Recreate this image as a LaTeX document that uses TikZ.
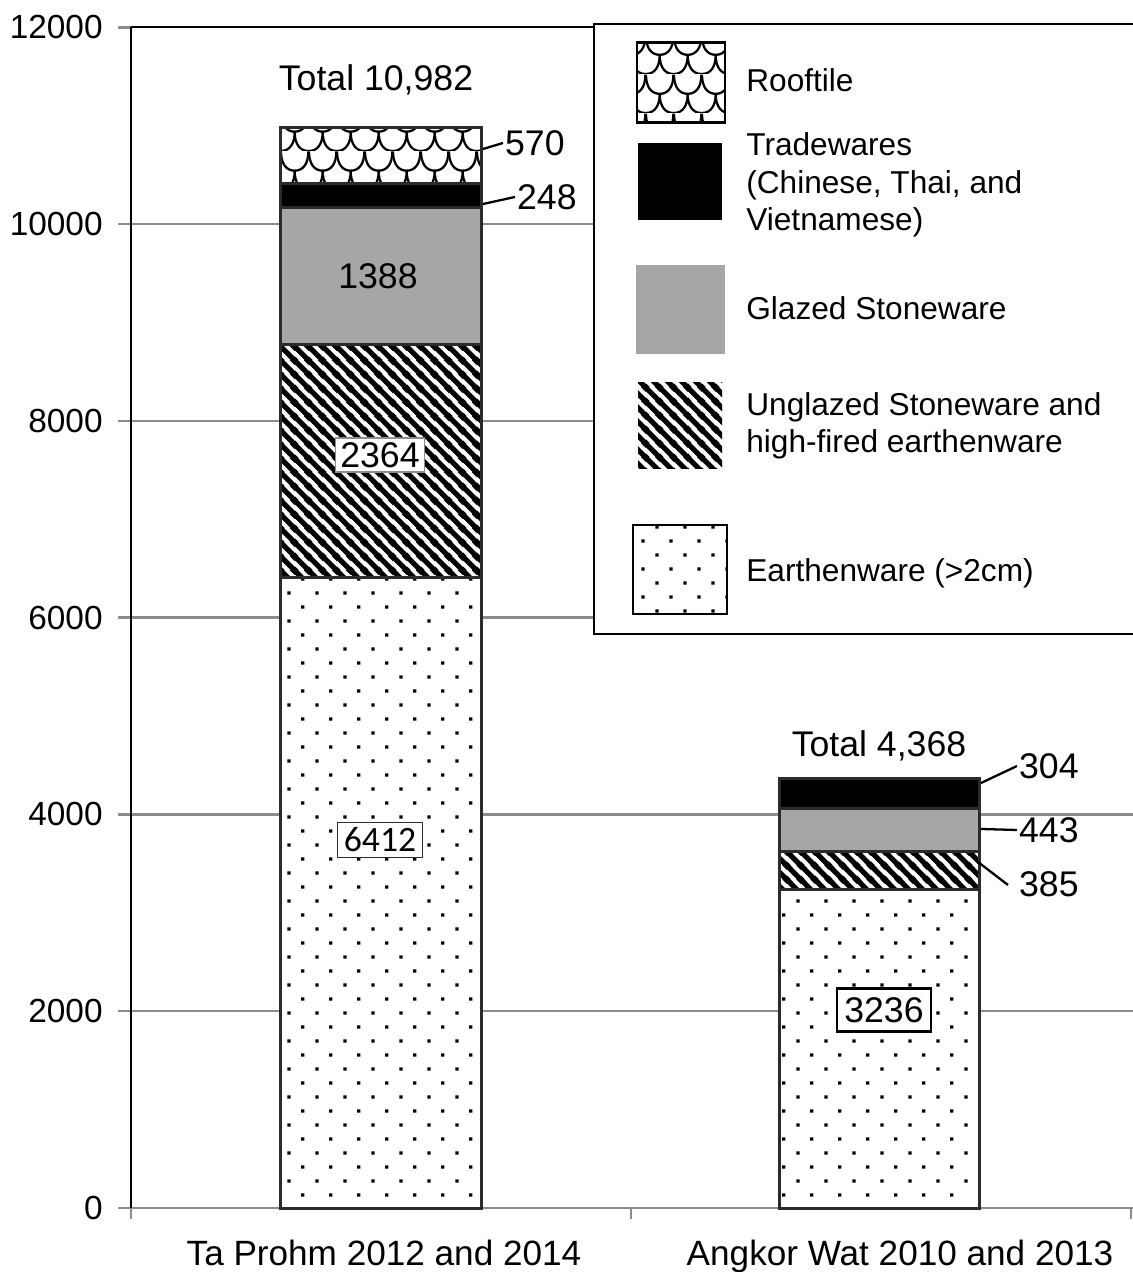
\documentclass[tikz,border=0pt]{standalone}
\usepackage{fontspec}
\setmainfont{Liberation Sans}
\newfontfamily\carlito{Carlito}
\usepackage{tikz}
\usetikzlibrary{patterns}
\definecolor{gitter}{rgb}{0.55,0.55,0.55}
\definecolor{glasur}{rgb}{0.65,0.65,0.65}
\definecolor{rahmen}{rgb}{0.17,0.17,0.17}
\newcommand\achsfont{\fontsize{19}{22}\selectfont}
\newcommand\wertfont{\fontsize{20.3}{24}\selectfont}
\newcommand\legfont{\fontsize{18}{21.3}\selectfont}
\newcommand\katfont{\fontsize{20}{24}\selectfont}

% Muster
\pgfdeclarepatternformonly{punkte}{\pgfqpoint{0pt}{0pt}}{\pgfqpoint{16.1pt}{16.2pt}}{\pgfqpoint{16.1pt}{16.2pt}}{%
  \pgfpathrectangle{\pgfqpoint{3.1pt}{3.1pt}}{\pgfqpoint{1.9pt}{1.9pt}}%
  \pgfpathrectangle{\pgfqpoint{11.15pt}{11.2pt}}{\pgfqpoint{1.9pt}{1.9pt}}%
  \pgfusepath{fill}}
\pgfdeclarepatternformonly{streifen}{\pgfqpoint{0pt}{0pt}}{\pgfqpoint{8pt}{8pt}}{\pgfqpoint{8pt}{8pt}}{%
  \pgfsetlinewidth{3.1pt}%
  \pgfpathmoveto{\pgfqpoint{-4pt}{4pt}}\pgfpathlineto{\pgfqpoint{4pt}{-4pt}}%
  \pgfpathmoveto{\pgfqpoint{-4pt}{12pt}}\pgfpathlineto{\pgfqpoint{12pt}{-4pt}}%
  \pgfpathmoveto{\pgfqpoint{4pt}{12pt}}\pgfpathlineto{\pgfqpoint{12pt}{4pt}}%
  \pgfusepath{stroke}}
\pgfdeclarepatternformonly{ziegel}{\pgfqpoint{0pt}{0pt}}{\pgfqpoint{16pt}{22pt}}{\pgfqpoint{16pt}{22pt}}{%
  \pgfsetlinewidth{1.3pt}%
  \pgfpathmoveto{\pgfqpoint{0pt}{22pt}}%
  \pgfpathcurveto{\pgfqpoint{0pt}{15pt}}{\pgfqpoint{3pt}{11pt}}{\pgfqpoint{8pt}{11pt}}%
  \pgfpathcurveto{\pgfqpoint{13pt}{11pt}}{\pgfqpoint{16pt}{15pt}}{\pgfqpoint{16pt}{22pt}}%
  \pgfpathmoveto{\pgfqpoint{-8pt}{11pt}}%
  \pgfpathcurveto{\pgfqpoint{-8pt}{4pt}}{\pgfqpoint{-5pt}{0pt}}{\pgfqpoint{0pt}{0pt}}%
  \pgfpathcurveto{\pgfqpoint{5pt}{0pt}}{\pgfqpoint{8pt}{4pt}}{\pgfqpoint{8pt}{11pt}}%
  \pgfpathcurveto{\pgfqpoint{8pt}{4pt}}{\pgfqpoint{11pt}{0pt}}{\pgfqpoint{16pt}{0pt}}%
  \pgfpathcurveto{\pgfqpoint{21pt}{0pt}}{\pgfqpoint{24pt}{4pt}}{\pgfqpoint{24pt}{11pt}}%
  \pgfusepath{stroke}}

\begin{document}
\begin{tikzpicture}[line join=miter,x=0.02cm,y=0.02cm,
    balken/.style={draw=rahmen,line width=1.7pt},
    erdware/.style={balken,preaction={fill=white},pattern=punkte},
    steinzeug/.style={balken,preaction={fill=white},pattern=streifen},
    glasiert/.style={balken,fill=glasur},
    handel/.style={balken,fill=black},
    ziegeldach/.style={balken,preaction={fill=white},pattern=ziegel},
    wert/.style={font=\wertfont,inner sep=1pt},
    leitung/.style={black,line width=1.3pt},
    legtext/.style={font=\legfont,align=left,anchor=west,inner sep=0pt}]
  \useasboundingbox (0,0) rectangle (1133,1272);
  \fill[white] (0,0) rectangle (1133,1272);

  % Gitter und Achsen
  \begin{scope}[xshift=2.62cm,yshift=1.28cm,y=0.001972cm]
    \foreach \y in {2000,4000,...,10000}
      \draw[gitter,line width=1.4pt] (-13,\y) -- (1005,\y);
    \draw[gitter,line width=1.4pt] (-13,12000) -- (0,12000);
    \draw[gitter,line width=1.4pt] (-13,0) -- (1005,0);
    \draw[black,line width=1.3pt] (0,12000) -- (1005,12000);
    \draw[black,line width=1.3pt] (0,0) -- (0,12000);
    \foreach \y in {0,2000,...,12000}
      \node[font=\achsfont,anchor=east,inner sep=0pt] (ylab\y) at (-28,\y) {\y};
  \end{scope}
  \foreach \x in {131,631,1131}
    \draw[gitter,line width=1.4pt] (\x,64) -- (\x,53);
  \node[font=\katfont,anchor=base] (kat1) at (384,7) {Ta Prohm 2012 and 2014};
  \node[font=\katfont,anchor=base] (kat2) at (900,7) {Angkor Wat 2010 and 2013};

  % Legende
  \draw[black,line width=1.3pt,fill=white] (594,638) rectangle (1140,1248);
  \draw[ziegeldach,draw=black] (637,1149) rectangle (725,1229);
  \fill[black] (638,1052) rectangle (722,1129);
  \fill[glasur] (636,918) rectangle (725,1007);
  \fill[pattern=streifen] (638,803) rectangle (722,889);
  \draw[erdware,draw=black] (633,658) rectangle (727,747);
  \node[legtext] (leg1) at (746,1192) {Rooftile};
  \node[legtext] (leg2) at (746,1087) {Tradewares\\(Chinese, Thai, and\\Vietnamese)};
  \node[legtext] (leg3) at (746,964) {Glazed Stoneware};
  \node[legtext] (leg4) at (746,846) {Unglazed Stoneware and\\high-fired earthenware};
  \node[legtext] (leg5) at (746,699) {Earthenware (>2cm)};

  % Balken
  \begin{scope}[xshift=2.62cm,yshift=1.28cm,y=0.001972cm]
    \draw[erdware] (150,0) rectangle (351,6412);
    \draw[steinzeug] (150,6412) rectangle (351,8776);
    \draw[glasiert] (150,8776) rectangle (351,10164);
    \draw[handel] (150,10164) rectangle (351,10412);
    \draw[ziegeldach] (150,10412) rectangle (351,10982);
    \draw[erdware] (649,0) rectangle (849,3236);
    \draw[steinzeug] (649,3236) rectangle (849,3621);
    \draw[glasiert] (649,3621) rectangle (849,4064);
    \draw[handel] (649,4064) rectangle (849,4368);
  \end{scope}

  % Werte
  \node[wert] (summe1) at (376,1192) {Total 10,982};
  \node[wert] (summe2) at (879,526) {Total 4,368};
  \node[wert] (w1388) at (378,996) {1388};
  \node[wert,fill=white,draw=gitter,line width=0.6pt,inner sep=2.5pt] (w2364) at (380,817) {2364};
  \node[wert,fill=white,draw=rahmen,line width=0.6pt,inner xsep=3.5pt,inner ysep=3pt,font=\wertfont\carlito] (w6412) at (380,432) {6412};
  \node[wert,fill=white,draw=black,line width=1.3pt,inner xsep=4pt,inner ysep=5pt] (w3236) at (884,262) {3236};

  \node[wert,anchor=west] (w570) at (503,1129) {570};
  \node[wert,anchor=west] (w248) at (515,1075) {248};
  \node[wert,anchor=west] (w304) at (1017,506) {304};
  \node[wert,anchor=west] (w443) at (1017,442) {443};
  \node[wert,anchor=west] (w385) at (1017,388) {385};
  \coordinate (k570) at (483,1123);
  \coordinate (k248) at (483,1068);
  \coordinate (k304) at (981,489);
  \coordinate (k443) at (981,443);
  \coordinate (k385) at (978,410);
  \coordinate (e385) at (1008,387);
  \draw[leitung] (k570) -- (w570.west);
  \draw[leitung] (k248) -- (w248.west);
  \draw[leitung] (k304) -- (w304.west);
  \draw[leitung] (k443) -- (w443.west);
  \draw[leitung] (k385) -- (e385);
\end{tikzpicture}
\end{document}
